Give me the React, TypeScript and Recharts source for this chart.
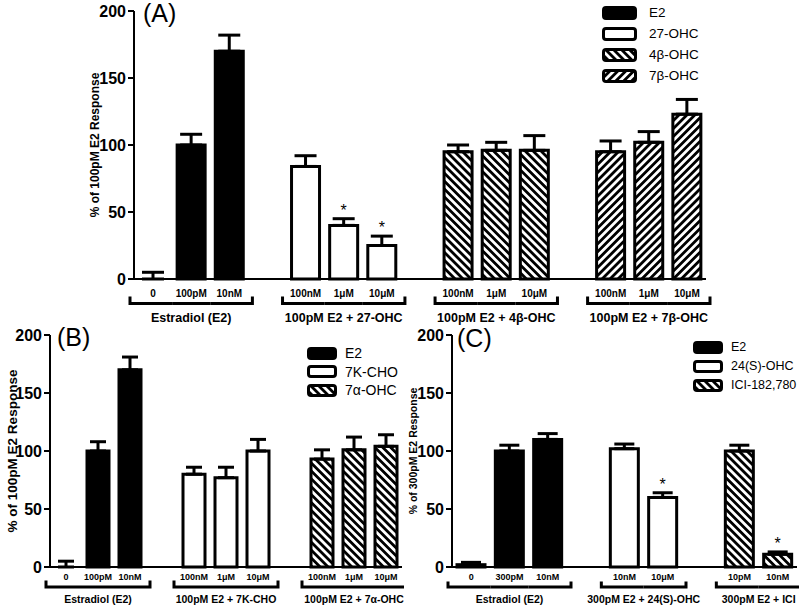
import React from 'react'
import { BarChart, Bar, XAxis, YAxis, ErrorBar, Cell, LabelList, Legend } from 'recharts'

const FONT = '"Liberation Sans", Arial, Helvetica, sans-serif'

const FILLS: Record<string, string> = {
  E2: '#000',
  '27-OHC': '#fff',
  '4β-OHC': 'url(#hatchDown)',
  '7β-OHC': 'url(#hatchUp)',
  '7K-CHO': '#fff',
  '7α-OHC': 'url(#hatchDown)',
  '24(S)-OHC': '#fff',
  'ICI-182,780': 'url(#hatchDown)',
}

// (A) 100pM E2 + 27-OHC / 4β-OHC / 7β-OHC
const A_SERIES = ['E2', '27-OHC', '4β-OHC', '7β-OHC']
const A_GROUPS = ['Estradiol (E2)', '100pM E2 + 27-OHC', '100pM E2 + 4β-OHC', '100pM E2 + 7β-OHC']
const A_DOSES = [['0', '100pM', '10nM'], ['100nM', '1μM', '10μM'], ['100nM', '1μM', '10μM'], ['100nM', '1μM', '10μM']]
const A_MEANS = [[0, 100, 170], [84, 40, 25], [95, 96, 96], [95, 102, 123]]
const A_SEMS = [[5, 8, 12], [8, 5, 7], [5, 6, 11], [8, 8, 11]]
const A_SIG = [[0, 0, 0], [0, 1, 1], [0, 0, 0], [0, 0, 0]]

// (B) 7K-CHO / 7α-OHC
const B_SERIES = ['E2', '7K-CHO', '7α-OHC']
const B_GROUPS = ['Estradiol (E2)', '100pM E2 + 7K-CHO', '100pM E2 + 7α-OHC']
const B_DOSES = [['0', '100pM', '10nM'], ['100nM', '1μM', '10μM'], ['100nM', '1μM', '10μM']]
const B_MEANS = [[0, 100, 170], [80, 77, 100], [93, 101, 104]]
const B_SEMS = [[5, 8, 11], [6, 9, 10], [8, 11, 10]]
const B_SIG = [[0, 0, 0], [0, 0, 0], [0, 0, 0]]

// (C) 300pM E2, 24(S)-OHC, ICI
const C_SERIES = ['E2', '24(S)-OHC', 'ICI-182,780']
const C_GROUPS = ['Estradiol (E2)', '300pM E2 + 24(S)-OHC', '300pM E2 + ICI']
const C_DOSES = [['0', '300pM', '10nM'], ['10nM', '10μM'], ['10pM', '10nM']]
const C_MEANS = [[2, 100, 110], [102, 60], [100, 11]]
const C_SEMS = [[2, 5, 5], [4, 4], [5, 2]]
const C_SIG = [[0, 0, 0], [0, 1], [0, 1]]

const Y_TICKS = [0, 50, 100, 150, 200]

type Row = {
  id: string
  dose: string
  mean: number | null
  sem: number | null
  series: string | null
  sig: boolean
  zero: boolean
  group: number
  pos: number
  size: number
}

function buildRows(series: string[], doses: string[][], means: number[][], sems: number[][], sig: number[][]): Row[] {
  const rows: Row[] = []
  doses.forEach((ds, gi) => {
    if (gi > 0) {
      rows.push({ id: 'gap' + gi, dose: '', mean: null, sem: null, series: null, sig: false, zero: false, group: -1, pos: -1, size: 0 })
    }
    ds.forEach((d, di) => {
      const m = means[gi][di]
      rows.push({
        id: `g${gi}d${di}`,
        dose: d,
        // a zero-height bar gets no error bar, so keep it a hair above 0 and hide its outline
        mean: m === 0 ? 0.01 : m,
        sem: sems[gi][di],
        series: series[gi],
        sig: !!sig[gi][di],
        zero: m === 0,
        group: gi,
        pos: di,
        size: ds.length,
      })
    })
  })
  return rows
}

type Panel = {
  letter: string
  series: string[]
  groups: string[]
  rows: Row[]
  left: number
  top: number
  width: number
  height: number
  margin: { top: number; right: number; bottom: number; left: number }
  yAxisWidth: number
  xAxisHeight: number
  yLabel: string
  yLabelX: number
  yLabelSize: number
  yTickSize: number
  tickFont: number
  groupFont: number
  tickDy: number
  bracketDy: number
  bracketTop: number
  groupDy: number
  barSize: number
  capWidth: number
  legend: { left: number; top: number; sw: number; sh: number; rowH: number; gap: number; font: number }
  letterPos: { x: number; y: number }
}

const PANELS: Panel[] = [
  {
    letter: '(A)',
    series: A_SERIES,
    groups: A_GROUPS,
    rows: buildRows(A_SERIES, A_DOSES, A_MEANS, A_SEMS, A_SIG),
    left: 0, top: 0, width: 799, height: 335,
    margin: { top: 11, right: 93, bottom: 0, left: 84 },
    yAxisWidth: 50, xAxisHeight: 56,
    yLabel: '% of 100pM E2 Response', yLabelX: 11, yLabelSize: 12,
    yTickSize: 16,
    tickFont: 10, groupFont: 12.5,
    tickDy: 17.5, bracketDy: 24.5, bracketTop: 17.5, groupDy: 43,
    barSize: 28, capWidth: 11,
    legend: { left: 602, top: 2, sw: 35, sh: 14, rowH: 21, gap: 12, font: 13.5 },
    letterPos: { x: 143, y: 22 },
  },
  {
    letter: '(B)',
    series: B_SERIES,
    groups: B_GROUPS,
    rows: buildRows(B_SERIES, B_DOSES, B_MEANS, B_SEMS, B_SIG),
    left: 0, top: 320, width: 404, height: 285,
    margin: { top: 15, right: 2, bottom: 0, left: 0 },
    yAxisWidth: 50, xAxisHeight: 38,
    yLabel: '% of 100pM E2 Response', yLabelX: 12, yLabelSize: 13.5,
    yTickSize: 16,
    tickFont: 9, groupFont: 10.5,
    tickDy: 13, bracketDy: 20, bracketTop: 13.5, groupDy: 35.5,
    barSize: 22, capWidth: 8,
    legend: { left: 307, top: 24, sw: 30, sh: 13, rowH: 18.5, gap: 8, font: 14 },
    letterPos: { x: 57, y: 346 },
  },
  {
    letter: '(C)',
    series: C_SERIES,
    groups: C_GROUPS,
    rows: buildRows(C_SERIES, C_DOSES, C_MEANS, C_SEMS, C_SIG),
    left: 400, top: 320, width: 399, height: 285,
    margin: { top: 15, right: 2, bottom: 0, left: 0 },
    yAxisWidth: 52, xAxisHeight: 38,
    yLabel: '% of 300pM E2 Response', yLabelX: 13, yLabelSize: 10.5,
    yTickSize: 16,
    tickFont: 9, groupFont: 10.5,
    tickDy: 13, bracketDy: 20, bracketTop: 14.5, groupDy: 35.5,
    barSize: 28, capWidth: 10,
    legend: { left: 293, top: 18, sw: 30, sh: 13, rowH: 19, gap: 8, font: 12.5 },
    letterPos: { x: 457, y: 347 },
  },
]

function GroupTick(props: any) {
  const { x, y, payload, p, band } = props
  const r: Row | undefined = p.rows.find((row: Row) => row.id === payload.value)
  if (!r || r.group < 0) return null
  const half = band / 2
  const ext = half + 4
  const yb = y + p.bracketDy
  const yt = y + p.bracketTop
  let d = `M ${x - half} ${yb} H ${x + half}`
  if (r.pos === 0) d = `M ${x - ext} ${yt} V ${yb} H ${x + half}`
  if (r.pos === r.size - 1) d = `M ${x - half} ${yb} H ${x + ext} V ${yt}`
  return (
    <g>
      <text x={x} y={y + p.tickDy} textAnchor="middle" fontSize={p.tickFont} fontWeight="bold" fill="#000">
        {r.dose}
      </text>
      <path d={d} fill="none" stroke="#000" strokeWidth={3} strokeLinejoin="miter" />
      {r.pos === 0 && (
        <text
          x={x + ((r.size - 1) * band) / 2}
          y={y + p.groupDy}
          textAnchor="middle"
          fontSize={p.groupFont}
          fontWeight="bold"
          fill="#000"
        >
          {p.groups[r.group]}
        </text>
      )}
    </g>
  )
}

function Star(props: any) {
  const { x, y, width, height, value, p } = props
  const r: Row | undefined = p.rows.find((row: Row) => row.id === value)
  if (!r || !r.sig || !r.mean || r.sem == null) return null
  const perUnit = height / r.mean
  const top = y - r.sem * perUnit
  return (
    <text x={x + width / 2} y={top - 3} textAnchor="middle" fontSize={16} fill="#000">
      *
    </text>
  )
}

function YLabel(props: any) {
  const { viewBox, p } = props
  const vx = viewBox?.x ?? p.margin.left
  const vy = viewBox?.y ?? p.margin.top
  const vh = viewBox?.height ?? 200
  const cx = vx + p.yLabelX
  const cy = vy + vh / 2
  return (
    <text
      transform={`translate(${cx},${cy}) rotate(-90)`}
      textAnchor="middle"
      dominantBaseline="central"
      fontSize={p.yLabelSize}
      fontWeight="bold"
      fill="#000"
    >
      {p.yLabel}
    </text>
  )
}

function SeriesLegend({ p }: { p: Panel }) {
  const L = p.legend
  return (
    <div style={{ fontFamily: FONT, whiteSpace: 'nowrap' }}>
      {p.series.map((s) => (
        <div key={s} style={{ display: 'flex', alignItems: 'center', height: L.rowH }}>
          <svg width={L.sw} height={L.sh} style={{ display: 'block', flex: 'none' }}>
            <rect x={1.5} y={1.5} width={L.sw - 3} height={L.sh - 3} rx={2.5} fill={FILLS[s]} stroke="#000" strokeWidth={3} />
          </svg>
          <span style={{ marginLeft: L.gap, fontSize: L.font, lineHeight: 1, color: '#000', whiteSpace: 'nowrap' }}>{s}</span>
        </div>
      ))}
    </div>
  )
}

function PanelChart({ p }: { p: Panel }) {
  const plotW = p.width - p.margin.left - p.margin.right - p.yAxisWidth
  const band = plotW / p.rows.length
  return (
    <div style={{ position: 'absolute', left: p.left, top: p.top, width: p.width, height: p.height }}>
      <BarChart width={p.width} height={p.height} data={p.rows} margin={p.margin}>
        <XAxis
          dataKey="id"
          height={p.xAxisHeight}
          interval={0}
          tickSize={0}
          tickMargin={0}
          tickLine={false}
          axisLine={{ stroke: '#000', strokeWidth: 2 }}
          tick={(tp: any) => <GroupTick {...tp} p={p} band={band} />}
        />
        <YAxis
          width={p.yAxisWidth}
          domain={[0, 200]}
          ticks={Y_TICKS}
          interval={0}
          tickSize={6}
          tickMargin={2}
          axisLine={{ stroke: '#000', strokeWidth: 2 }}
          tickLine={{ stroke: '#000', strokeWidth: 2 }}
          tick={{ fill: '#000', fontSize: p.yTickSize, fontWeight: 'bold' }}
          label={<YLabel p={p} />}
        />
        <Legend
          verticalAlign="middle"
          align="center"
          layout="horizontal"
          wrapperStyle={{ left: p.legend.left, top: p.legend.top, width: 'auto', whiteSpace: 'nowrap' }}
          content={() => <SeriesLegend p={p} />}
        />
        <Bar dataKey="mean" barSize={p.barSize} stroke="#000" strokeWidth={3} isAnimationActive={false}>
          {p.rows.map((r) => (
            <Cell key={r.id} fill={r.series ? FILLS[r.series] : 'none'} stroke={r.zero ? 'none' : '#000'} />
          ))}
          <ErrorBar
            dataKey={(d: Row) => (d.sem == null ? null : [0, d.sem])}
            direction="y"
            width={p.capWidth}
            stroke="#000"
            strokeWidth={3}
          />
          <LabelList dataKey="id" content={(lp: any) => <Star {...lp} p={p} />} />
        </Bar>
      </BarChart>
    </div>
  )
}

export default function App() {
  return (
    <div
      style={{
        position: 'absolute',
        left: 0,
        top: 0,
        width: 799,
        height: 605,
        background: '#fff',
        fontFamily: FONT,
        overflow: 'hidden',
      }}
    >
      <svg width={0} height={0} style={{ position: 'absolute' }}>
        <defs>
          <pattern id="hatchDown" patternUnits="userSpaceOnUse" width={5.6} height={5.6} patternTransform="rotate(-45)">
            <rect width={5.6} height={5.6} fill="#fff" />
            <rect width={2.8} height={5.6} fill="#000" />
          </pattern>
          <pattern id="hatchUp" patternUnits="userSpaceOnUse" width={5.6} height={5.6} patternTransform="rotate(45)">
            <rect width={5.6} height={5.6} fill="#fff" />
            <rect width={2.8} height={5.6} fill="#000" />
          </pattern>
        </defs>
      </svg>
      {PANELS.map((p) => (
        <PanelChart key={p.letter} p={p} />
      ))}
      {PANELS.map((p) => (
        <span
          key={'l' + p.letter}
          style={{
            position: 'absolute',
            left: p.letterPos.x,
            top: p.letterPos.y - 25 * 0.83,
            fontSize: 25,
            lineHeight: 1,
            color: '#000',
          }}
        >
          {p.letter}
        </span>
      ))}
    </div>
  )
}
